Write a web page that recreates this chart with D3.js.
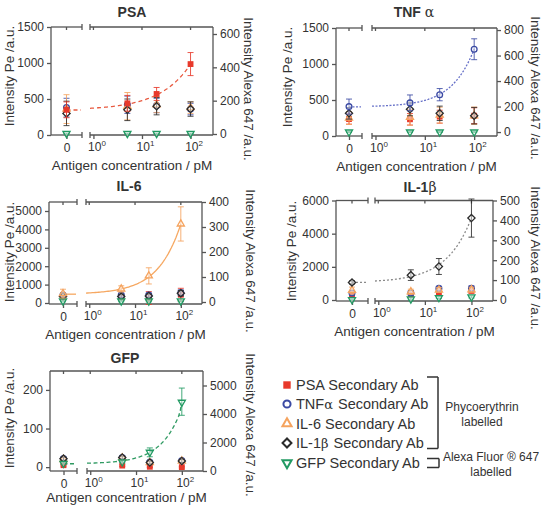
<!DOCTYPE html>
<html><head><meta charset="utf-8">
<script src="https://cdn.jsdelivr.net/npm/d3@7"></script>
<style>body{margin:0;background:#fff}</style>
</head><body>
<script>
// ---------- DATA ----------
const concentrations = [0, 5, 20, 100];
const seriesNames = ["PSA Secondary Ab", "TNFα Secondary Ab", "IL-6 Secondary Ab", "IL-1β Secondary Ab", "GFP Secondary Ab"];
const panelTitles = ["PSA", "TNF α", "IL-6", "IL-1β", "GFP"];

// rows = series (PSA, TNFα, IL-6, IL-1β, GFP[right axis]); columns = concentrations
const psaMeans  = [[350, 440, 570, 985], [380, 420, 410, 360], [360, 400, 420, 380], [300, 350, 400, 360], [3, 3, 3, 3]];
const psaErrors = [[110, 110, 90, 160], [130, 120, 100, 80], [200, 190, 110, 80], [170, 150, 120, 100], [3, 3, 3, 3]];
const tnfMeans  = [[235, 232, 268, 282], [408, 460, 574, 1205], [250, 260, 290, 282], [315, 371, 315, 282], [0, 0, 0, 0]];
const tnfErrors = [[70, 80, 90, 110], [105, 110, 85, 145], [90, 110, 110, 120], [80, 90, 100, 115], [4, 4, 4, 4]];
const il6Means  = [[300, 300, 270, 450], [437, 437, 437, 562], [508, 765, 1474, 4297], [350, 350, 380, 530], [4, 4, 4, 4]];
const il6Errors = [[80, 100, 350, 350], [100, 100, 100, 150], [240, 170, 440, 930], [80, 100, 100, 150], [3, 3, 3, 3]];
const il1bMeans  = [[340, 320, 440, 560], [420, 420, 700, 700], [580, 500, 600, 620], [1060, 1500, 2020, 4940], [2, 5, 12, 15]];
const il1bErrors = [[150, 120, 150, 150], [150, 150, 120, 150], [200, 150, 150, 150], [100, 320, 480, 1150], [3, 5, 5, 5]];
const gfpMeans  = [[5, 4, 1, 0], [22, 25, 13, 17], [20, 24, 12, 16], [22, 25, 12, 16], [530, 640, 1310, 4410]];
const gfpErrors = [[2, 2, 2, 2], [3, 3, 3, 3], [3, 3, 3, 3], [4, 4, 4, 4], [50, 60, 310, 500]];

// fitted curves (y = a + b * c^n), one per panel for its own secondary Ab
const fitIntercepts = [347, 405, 480, 1060, 510];
const fitSlopes     = [26.6, 10.1, 69.4, 97.7, 41.8];
const fitExponents  = [0.69, 0.95, 0.87, 0.80, 0.985];

// axis ticks / domains
const psaLeftTicks = [0, 500, 1000, 1500],  psaRightTicks = [0, 200, 400, 600];
const tnfLeftTicks = [0, 500, 1000, 1500],  tnfRightTicks = [0, 200, 400, 600, 800];
const il6LeftTicks = [0, 1000, 2000, 3000, 4000, 5000], il6RightTicks = [0, 100, 200, 300, 400];
const il1bLeftTicks = [0, 2000, 4000, 6000], il1bRightTicks = [0, 100, 200, 300, 400, 500];
const gfpLeftTicks = [0, 100, 200],          gfpRightTicks = [0, 2000, 4000, 5000];
const leftDomains  = [[0, 1500], [0, 1500], [-54, 5489], [-60, 6000], [-10, 249]];
const rightDomains = [[-6, 642], [-31, 816], [-8, 400], [-5, 500], null];
const logTicks = [1, 10, 100];
const logDomain = [0.85, 290];

// ---------- STYLE / LAYOUT ----------
const font = "'Liberation Sans', Arial, Helvetica, sans-serif";
const greekFont = "'DejaVu Serif', 'Liberation Serif', serif";
const axisColor = "#555";
const textColor = "#333";
const colors = ["#e8392b", "#3b4aa3", "#f5a35e", "#2b2b2b", "#229a63"];
const curveColors = ["#e85a40", "#6670c8", "#f6a862", "#8a8a8a", "#2f9a62"];
const curveDash = ["4,3", "2,1.5", null, "2,2", "4,2.5"];
const markerSizes = [34, 26, 22, 26, 22];
const legendMarkerSizes = [55, 40, 36, 40, 36];

const layouts = [
  {left: 51, zEnd: 82, lStart: 90, right: 213, top: 27, bottom: 135, tX: 132, tY: 17, yLX: 9, yLY: 76, rLX: 249, rLY: 89, topBreak: true, xlY: 35},
  {left: 336, zEnd: 362, lStart: 372, right: 497, top: 28, bottom: 136, tX: 414, tY: 17, yLX: 287, yLY: 77, rLX: 536, rLY: 88, topBreak: true, xlY: 35},
  {left: 49, zEnd: 77, lStart: 86, right: 202, top: 202, bottom: 304, tX: 129, tY: 191, yLX: 9, yLY: 252, rLX: 251, rLY: 261, topBreak: true, xlY: 35},
  {left: 336, zEnd: 368, lStart: 375, right: 493, top: 200.5, bottom: 301, tX: 420, tY: 192, yLX: 291, yLY: 251, rLX: 536, rLY: 258, topBreak: true, xlY: 35},
  {left: 50, zEnd: 77, lStart: 87, right: 203, top: 371, bottom: 471, tX: 125, tY: 363, yLX: 9, yLY: 418, rLX: 251, rLY: 425, topBreak: false, xlY: 31}
];
const panelMeans = [psaMeans, tnfMeans, il6Means, il1bMeans, gfpMeans];
const panelErrors = [psaErrors, tnfErrors, il6Errors, il1bErrors, gfpErrors];
const panelLeftTicks = [psaLeftTicks, tnfLeftTicks, il6LeftTicks, il1bLeftTicks, gfpLeftTicks];
const panelRightTicks = [psaRightTicks, tnfRightTicks, il6RightTicks, il1bRightTicks, gfpRightTicks];

const svg = d3.select("body").append("svg").attr("width", 549).attr("height", 506)
  .style("font-family", font);

function symbolFor(i, size) {
  const types = [d3.symbolSquare, d3.symbolCircle, d3.symbolTriangle, d3.symbolSquare, d3.symbolTriangle];
  return d3.symbol().type(types[i]).size(size)();
}
function symbolRotation(i) { return i === 3 ? 45 : (i === 4 ? 180 : 0); }

function addMarker(g, i, x, y, size, sw) {
  g.append("path").attr("d", symbolFor(i, size))
    .attr("transform", `translate(${x},${y}) rotate(${symbolRotation(i)})`)
    .attr("fill", i === 0 ? colors[0] : "#fff").attr("fill-opacity", i === 0 ? 1 : 0.45)
    .attr("stroke", colors[i]).attr("stroke-width", i === 0 ? 0 : sw);
}

function titleText(g, x, y, txt, size, weight) {
  const t = g.append("text").attr("x", x).attr("y", y).attr("text-anchor", "middle")
    .attr("font-size", size).attr("font-weight", weight).attr("fill", textColor);
  const m = txt.match(/^(.*?)([αβ])(.*)$/);
  if (m) {
    t.append("tspan").text(m[1]);
    t.append("tspan").attr("font-family", greekFont).attr("font-weight", "normal").text(m[2]);
    if (m[3]) t.append("tspan").text(m[3]);
  } else t.text(txt);
  return t;
}

layouts.forEach((L, p) => {
  const g = svg.append("g");
  const xZero = d3.scalePoint().domain([0]).range([L.left, L.zEnd]).padding(0.5);
  const xLog = d3.scaleLog().domain(logDomain).range([L.lStart, L.right]);
  const yL = d3.scaleLinear().domain(leftDomains[p]).range([L.bottom, L.top]);
  let yR;
  if (rightDomains[p]) {
    yR = d3.scaleLinear().domain(rightDomains[p]).range([L.bottom, L.top]);
  } else {
    const rt = panelRightTicks[p];
    const step = (L.bottom - L.top) * 0.285;
    yR = d3.scaleLinear().domain(rt).range(rt.map((d, i) => L.bottom - i * step));
  }
  const xOf = c => c === 0 ? xZero(0) : xLog(c);

  // frame lines
  const line = (x1, y1, x2, y2) => g.append("line").attr("x1", x1).attr("y1", y1).attr("x2", x2).attr("y2", y2)
    .attr("stroke", axisColor).attr("stroke-width", 1.3);
  line(L.left, L.top, L.left, L.bottom);
  line(L.right, L.top, L.right, L.bottom);
  line(L.left, L.bottom, L.zEnd, L.bottom);
  line(L.lStart, L.bottom, L.right, L.bottom);
  line(L.zEnd, L.bottom - 3, L.zEnd, L.bottom + 3);
  line(L.lStart, L.bottom - 3, L.lStart, L.bottom + 3);
  if (L.topBreak) {
    line(L.left, L.top, L.zEnd, L.top);
    line(L.lStart, L.top, L.right, L.top);
    line(L.zEnd, L.top - 3, L.zEnd, L.top + 3);
    line(L.lStart, L.top - 3, L.lStart, L.top + 3);
  } else {
    line(L.left, L.top, L.right, L.top);
  }
  // top inward ticks
  [0].concat(logTicks).forEach(c => line(xOf(c), L.top, xOf(c), L.top + 3));

  // axes
  const styleAxis = sel => {
    sel.select(".domain").remove();
    sel.selectAll(".tick line").attr("stroke", axisColor).attr("stroke-width", 1.3);
    sel.selectAll(".tick text").attr("fill", textColor).attr("font-size", 12).attr("font-family", font);
  };
  g.append("g").attr("transform", `translate(${L.left},0)`)
    .call(d3.axisLeft(yL).tickValues(panelLeftTicks[p]).tickSize(4).tickPadding(3).tickFormat(d3.format("d")))
    .call(styleAxis);
  g.append("g").attr("transform", `translate(${L.right},0)`)
    .call(d3.axisRight(yR).tickValues(panelRightTicks[p]).tickSize(4).tickPadding(3).tickFormat(d3.format("d")))
    .call(styleAxis);
  g.append("g").attr("transform", `translate(0,${L.bottom})`)
    .call(d3.axisBottom(xZero).tickSize(4).tickPadding(4).tickFormat(d => String(d)))
    .call(styleAxis);
  const bx = g.append("g").attr("transform", `translate(0,${L.bottom})`)
    .call(d3.axisBottom(xLog).tickValues(logTicks).tickSize(4).tickFormat(() => ""))
    .call(styleAxis);
  bx.selectAll(".tick").each(function(d) {
    const t = d3.select(this).append("text").attr("x", 3).attr("y", 16).attr("text-anchor", "middle")
      .attr("fill", textColor).attr("font-size", 12).attr("font-family", font);
    t.append("tspan").text("10");
    t.append("tspan").attr("dy", -5).attr("font-size", 8).text(String(Math.round(Math.log10(d))));
  });

  // labels
  titleText(g, L.tX, L.tY, panelTitles[p], 14, "bold");
  g.append("text").attr("x", (L.left + L.right) / 2).attr("y", L.bottom + L.xlY).attr("text-anchor", "middle")
    .attr("font-size", 13.5).attr("fill", textColor).text("Antigen concentration / pM");
  g.append("text").attr("transform", `translate(${L.yLX + 5},${L.yLY}) rotate(-90)`).attr("text-anchor", "middle")
    .attr("font-size", 13.5).attr("fill", textColor).text("Intensity Pe /a.u.");
  g.append("text").attr("transform", `translate(${L.rLX - 5},${L.rLY}) rotate(90)`).attr("text-anchor", "middle")
    .attr("font-size", 13.5).attr("fill", textColor).text("Intensity Alexa 647 /a.u.");

  // fit curve
  const fit = c => fitIntercepts[p] + fitSlopes[p] * Math.pow(c, fitExponents[p]);
  const yFit = p === 4 ? yR : yL;
  const cg = g.append("g").attr("fill", "none").attr("stroke", curveColors[p]).attr("stroke-width", 1.3)
    .attr("stroke-dasharray", curveDash[p]);
  cg.append("line").attr("x1", xZero(0)).attr("x2", L.zEnd - 1).attr("y1", yFit(fit(0))).attr("y2", yFit(fit(0)));
  const samples = d3.range(0, 61).map(i => logDomain[0] * Math.pow(100 / logDomain[0], i / 60));
  cg.append("path").attr("d", d3.line().x(c => xLog(c)).y(c => yFit(fit(c)))(samples));

  // series: draw the panel's own series last
  const order = [0, 1, 2, 3, 4].filter(i => i !== p).concat([p]);
  const means = panelMeans[p], errs = panelErrors[p];
  order.forEach(s => {
    const ys = s === 4 ? yR : yL;
    const sg = g.append("g");
    concentrations.forEach((c, j) => {
      const x = xOf(c), m = means[s][j], e = errs[s][j];
      const eg = sg.append("g").attr("stroke", colors[s]).attr("stroke-width", 1).attr("stroke-opacity", 0.85);
      eg.append("line").attr("x1", x).attr("x2", x).attr("y1", ys(m - e)).attr("y2", ys(m + e));
      eg.append("line").attr("x1", x - 3).attr("x2", x + 3).attr("y1", ys(m - e)).attr("y2", ys(m - e));
      eg.append("line").attr("x1", x - 3).attr("x2", x + 3).attr("y1", ys(m + e)).attr("y2", ys(m + e));
    });
    concentrations.forEach((c, j) => {
      addMarker(sg, s, xOf(c), ys(means[s][j]), markerSizes[s], 1.3);
    });
  });
});

// ---------- LEGEND ----------
const legendRowsY = [385, 404, 423.5, 443, 463];
const lg = svg.append("g");
seriesNames.forEach((name, i) => {
  addMarker(lg, i, 287, legendRowsY[i], legendMarkerSizes[i], 2);
  const t = lg.append("text").attr("x", 296).attr("y", legendRowsY[i] + 5).attr("font-size", 14.5).attr("fill", textColor);
  const m = name.match(/^(.*?)([αβ])(.*)$/);
  if (m) {
    t.append("tspan").text(m[1]);
    t.append("tspan").attr("font-family", greekFont).attr("font-size", 13).text(m[2]);
    t.append("tspan").attr("dx", 1).text(m[3]);
  } else t.text(name);
});
const bl = (x1, y1, x2, y2) => lg.append("line").attr("x1", x1).attr("y1", y1).attr("x2", x2).attr("y2", y2)
  .attr("stroke", textColor).attr("stroke-width", 1.5);
bl(427, 377, 438, 377); bl(438, 377, 438, 448.5); bl(427, 448.5, 438, 448.5);
bl(427, 458.5, 439, 458.5); bl(439, 458.5, 439, 467.5); bl(427, 467.5, 439, 467.5);
const note = (x, y, s) => lg.append("text").attr("x", x).attr("y", y).attr("text-anchor", "middle")
  .attr("font-size", 12).attr("fill", textColor).text(s);
note(482, 411, "Phycoerythrin"); note(482, 426, "labelled");
note(491, 461, "Alexa Fluor ® 647"); note(491, 476, "labelled");
</script>
</body></html>
